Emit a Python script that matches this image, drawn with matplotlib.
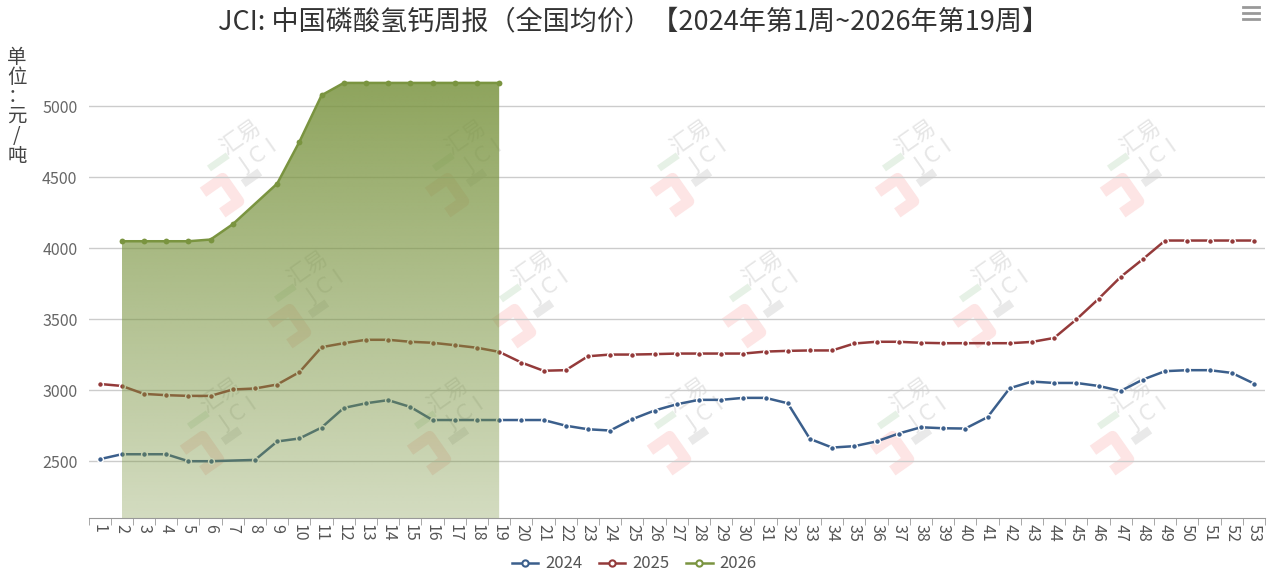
import numpy as np
import matplotlib.pyplot as plt
from matplotlib.lines import Line2D
from matplotlib.patches import Polygon

plt.rcParams['font.family'] = ['Noto Sans CJK SC', 'DejaVu Sans']

# weekly national average price, yuan/ton
weeks = np.arange(1, 54)
nan = np.nan
price_2024 = [2514, 2549, 2549, 2549, 2500, 2500, nan, 2509, 2639, 2660,
              2737, 2875, 2908, 2930, 2882, 2790, 2790, 2790, 2790, 2790,
              2790, 2750, 2725, 2716, 2796, 2857, 2901, 2932, 2932, 2946,
              2946, 2908, 2657, 2596, 2606, 2639, 2695, 2739, 2732, 2730,
              2810, 3014, 3061, 3051, 3051, 3030, 2995, 3075, 3134, 3141,
              3141, 3122, 3047]
price_2025 = [3044, 3030, 2974, 2965, 2960, 2960, 3005, 3012, 3040, 3127,
              3303, 3331, 3355, 3355, 3341, 3334, 3317, 3299, 3270, 3195,
              3137, 3141, 3239, 3251, 3251, 3254, 3258, 3258, 3258, 3258,
              3272, 3277, 3280, 3280, 3329, 3341, 3341, 3334, 3331, 3331,
              3331, 3331, 3340, 3368, 3498, 3643, 3798, 3923, 4054, 4054,
              4054, 4054, 4054]
price_2026 = [nan, 4049, 4049, 4049, 4049, 4061, 4169, nan, 4455, 4749,
              5077, 5164, 5164, 5164, 5164, 5164, 5164, 5164, 5164]

years = ['2024', '2025', '2026']
colors = ['#3b5f8c', '#943a3a', '#7a9440']
series = [price_2024, price_2025, price_2026]

W, H = 1268, 585
ymin, ymax = 2100, 5300

fig = plt.figure(figsize=(W / 100, H / 100), dpi=100)
ax = fig.add_axes([88.5 / W, 1 - 518 / H, 1176.5 / W, (ymax - ymin) * 0.142 / H])
ax.set_xlim(0.5, 53.5)
ax.set_ylim(ymin, ymax)

# watermark logos (behind the axes)
def watermark(cx, cy):
    ang = np.deg2rad(35)
    rot = np.array([[np.cos(ang), np.sin(ang)], [-np.sin(ang), np.cos(ang)]])
    def to_fig(pts):
        pts = np.array(pts, dtype=float) @ rot.T
        return (cx + pts[:, 0]) / W, 1 - (cy + pts[:, 1]) / H
    x, y = to_fig([[0, 0]])
    fig.text(x[0], y[0], '汇易', rotation=35, fontsize=16, color='#e6e6e6',
             ha='center', va='center', zorder=-5)
    x, y = to_fig([[4, 27]])
    fig.text(x[0], y[0], 'J C I', rotation=35, fontsize=15, color='#e6e6e6',
             ha='center', va='center', zorder=-5, family='DejaVu Sans')
    x, y = to_fig([[-62, 24], [-38, 24], [-38, 52], [-58, 52]])
    fig.add_artist(Line2D(x, y, color='#fde5e5', lw=8, zorder=-5, solid_capstyle='butt'))
    x, y = to_fig([[-40, 8], [-24, 8]])
    fig.add_artist(Line2D(x, y, color='#e6f1e6', lw=5, zorder=-5))
    x, y = to_fig([[-20, 40], [-8, 40]])
    fig.add_artist(Line2D(x, y, color='#e9e9e9', lw=6, zorder=-5))

for cx in [240, 465, 690, 915, 1140]:
    watermark(cx, 137)
for cx in [307, 532, 762, 992]:
    watermark(cx, 268)
for cx in [220, 447, 687, 910, 1130]:
    watermark(cx, 395)
ax.patch.set_alpha(0)

# lines
for name, vals, c in zip(years, series, colors):
    v = np.array(vals, dtype=float)
    x = weeks[:len(v)]
    ok = ~np.isnan(v)
    z = 5 if name == '2026' else 2
    ax.plot(x[ok], v[ok], color=c, lw=1.8, marker='o', ms=4.2, mfc=c,
            mec='white' if name != '2026' else c, mew=1.0 if name != '2026' else 0,
            zorder=z)

# gradient area under 2026
v26 = np.array(price_2026, dtype=float)
x26 = weeks[:len(v26)]
ok = ~np.isnan(v26)
xs, ys = x26[ok], v26[ok]
poly = Polygon(np.column_stack([np.r_[xs, xs[-1], xs[0]], np.r_[ys, ymin, ymin]]),
               closed=True, facecolor='none', edgecolor='none')
ax.add_patch(poly)
grad = np.zeros((256, 1, 4))
grad[:, 0, :3] = np.array([122, 148, 64]) / 255
grad[:, 0, 3] = np.linspace(0.85, 0.33, 256)
im = ax.imshow(grad, extent=(xs[0], xs[-1], ymin, ys.max()), aspect='auto',
               origin='upper', zorder=3, interpolation='bilinear')
im.set_clip_path(poly)
ax.set_xlim(0.5, 53.5)
ax.set_ylim(ymin, ymax)

# axes styling
ax.set_yticks([2500, 3000, 3500, 4000, 4500, 5000])
ax.tick_params(axis='y', length=0, labelsize=11.5, labelcolor='#666666', pad=8)
ax.grid(axis='y', color='#cccccc', lw=1)
ax.set_axisbelow(True)
ax.set_xticks(weeks)
ax.set_xticklabels([str(w) for w in weeks], rotation=-90)
ax.tick_params(axis='x', length=0, labelsize=11.5, labelcolor='#555555', pad=4)
ax.set_xticks(np.arange(0.5, 54, 1), minor=True)
ax.tick_params(axis='x', which='minor', length=5, color='#999999')
for s in ['top', 'right', 'left']:
    ax.spines[s].set_visible(False)
ax.spines['bottom'].set_color('#999999')

fig.text(0.5, 1 - 22 / H, 'JCI: 中国磷酸氢钙周报（全国均价）【2024年第1周~2026年第19周】',
         ha='center', va='center', fontsize=19.5, color='#333333')
fig.text(17 / W, 1 - 47 / H, '单\n位\n：\n元\n/\n吨', ha='center', va='top',
         fontsize=14, color='#444444', linespacing=0.92)

handles = [Line2D([], [], color=c, lw=1.8, marker='o', ms=4.5, mfc='white', mec=c, mew=1.5)
           for c in colors]
fig.legend(handles, years, loc='center', bbox_to_anchor=(0.5, 1 - 564 / H), ncol=3,
           frameon=False, fontsize=12, handlelength=1.6, handletextpad=0.4,
           columnspacing=1.0, labelcolor='#555555')

for yy in [7, 13, 19]:
    fig.add_artist(Line2D([1243 / W, 1259 / W], [1 - yy / H] * 2, color='#999999', lw=2))

fig.savefig('out.png', dpi=100)
